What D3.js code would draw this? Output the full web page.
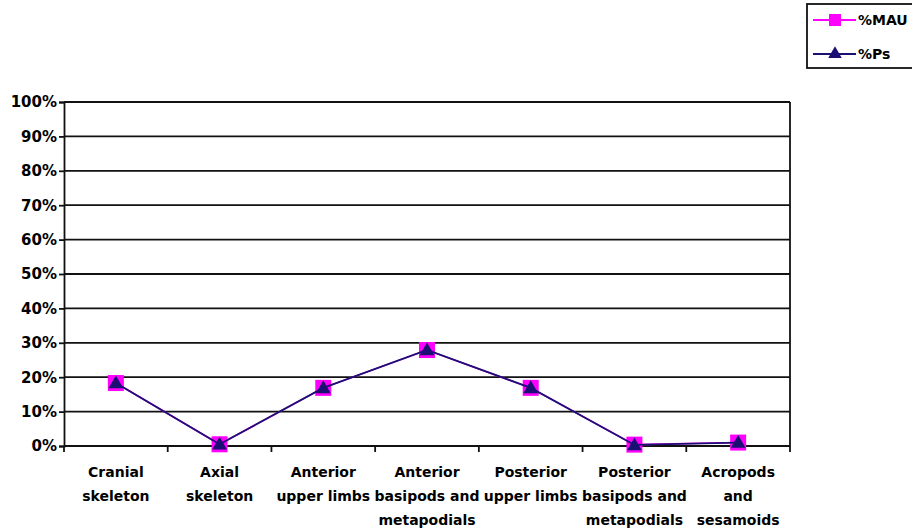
<!DOCTYPE html>
<html>
<head>
<meta charset="utf-8">
<script src="https://cdn.jsdelivr.net/npm/d3@7"></script>
<style>
  html, body { margin: 0; padding: 0; background: #fff; }
  svg { display: block; }
  text { font-family: "DejaVu Sans", Verdana, sans-serif; font-weight: bold; fill: #000; }
</style>
</head>
<body>
<svg id="chart" width="912" height="530"></svg>
<script>
// Skeletal element groups along the x axis (each may wrap onto several lines)
const categories = [
  ["Cranial", "skeleton"],
  ["Axial", "skeleton"],
  ["Anterior", "upper limbs"],
  ["Anterior", "basipods and", "metapodials"],
  ["Posterior", "upper limbs"],
  ["Posterior", "basipods and", "metapodials"],
  ["Acropods", "and", "sesamoids"]
];
// Percentages per group
const mauValues = [18.3, 0.5, 16.9, 27.9, 16.9, 0.4, 1.0];
const psValues  = [18.3, 0.5, 16.9, 27.9, 16.9, 0.3, 1.0];
const yTicks = [0, 10, 20, 30, 40, 50, 60, 70, 80, 90, 100];

const svg = d3.select("#chart");
const plot = { left: 64, right: 790, top: 102, bottom: 446 };

const x = d3.scaleBand()
  .domain(d3.range(categories.length))
  .range([plot.left, plot.right])
  .padding(0);
const y = d3.scaleLinear().domain([0, 100]).range([plot.bottom, plot.top]);

// Horizontal gridlines
svg.append("g")
  .selectAll("line")
  .data(yTicks)
  .join("line")
  .attr("x1", plot.left).attr("x2", plot.right)
  .attr("y1", d => y(d)).attr("y2", d => y(d))
  .attr("stroke", "#111").attr("stroke-width", 1.8);

// Right border of the plot area
svg.append("line")
  .attr("x1", plot.right).attr("x2", plot.right)
  .attr("y1", plot.top).attr("y2", plot.bottom)
  .attr("stroke", "#111").attr("stroke-width", 1.8);

// Y axis
const yAxis = svg.append("g")
  .attr("transform", `translate(${plot.left},0)`)
  .call(d3.axisLeft(y).tickValues(yTicks).tickFormat(d => d + "%").tickSize(5).tickPadding(2));
yAxis.select(".domain").attr("stroke", "#111").attr("stroke-width", 1.8);
yAxis.selectAll(".tick line").attr("stroke", "#111").attr("stroke-width", 1.8);
yAxis.selectAll(".tick text")
  .attr("font-family", "DejaVu Sans, Verdana, sans-serif")
  .attr("font-weight", "bold")
  .attr("font-size", 15)
  .attr("fill", "#000");

// X axis: line with tick marks at the band boundaries
const bounds = d3.range(categories.length + 1).map(i =>
  i < categories.length ? x(i) : x(categories.length - 1) + x.bandwidth());
svg.append("line")
  .attr("x1", plot.left).attr("x2", plot.right)
  .attr("y1", plot.bottom).attr("y2", plot.bottom)
  .attr("stroke", "#111").attr("stroke-width", 1.8);
svg.append("g")
  .selectAll("line")
  .data(bounds)
  .join("line")
  .attr("x1", d => d).attr("x2", d => d)
  .attr("y1", plot.bottom).attr("y2", plot.bottom + 6)
  .attr("stroke", "#111").attr("stroke-width", 1.8);

// Category labels
const cx = i => x(i) + x.bandwidth() / 2;
const lbl = svg.append("g")
  .selectAll("text")
  .data(categories)
  .join("text")
  .attr("text-anchor", "middle")
  .attr("font-size", 14)
  .attr("transform", (d, i) => `translate(${cx(i)},477)`);
lbl.selectAll("tspan")
  .data(d => d)
  .join("tspan")
  .attr("x", 0)
  .attr("dy", (d, j) => j === 0 ? 0 : 24)
  .text(d => d);

const magenta = "#ff00ff";
const navy = "#1b0f73";
const line = d3.line().x((d, i) => cx(i)).y(d => y(d));
const triangle = d3.symbol().type(d3.symbolTriangle).size(95);

// %MAU series
svg.append("path")
  .datum(mauValues)
  .attr("d", line)
  .attr("fill", "none")
  .attr("stroke", magenta)
  .attr("stroke-width", 1.6);
svg.append("g")
  .selectAll("rect")
  .data(mauValues)
  .join("rect")
  .attr("x", (d, i) => cx(i) - 8)
  .attr("y", d => y(d) - 8)
  .attr("width", 16).attr("height", 16)
  .attr("fill", magenta);

// %Ps series
svg.append("path")
  .datum(psValues)
  .attr("d", line)
  .attr("fill", "none")
  .attr("stroke", navy)
  .attr("stroke-width", 1.8);
svg.append("g")
  .selectAll("path")
  .data(psValues)
  .join("path")
  .attr("d", triangle)
  .attr("transform", (d, i) => `translate(${cx(i)},${y(d) + 1})`)
  .attr("fill", navy);

// Legend
const legend = svg.append("g");
legend.append("rect")
  .attr("x", 807).attr("y", 4)
  .attr("width", 110).attr("height", 64)
  .attr("fill", "#fff").attr("stroke", "#111").attr("stroke-width", 1.8);
const legendItems = [
  { name: "%MAU", color: magenta, ly: 20, marker: "square" },
  { name: "%Ps", color: navy, ly: 54, marker: "triangle" }
];
legendItems.forEach(it => {
  legend.append("line")
    .attr("x1", 813).attr("x2", 856)
    .attr("y1", it.ly).attr("y2", it.ly)
    .attr("stroke", it.color).attr("stroke-width", 2);
  if (it.marker === "square") {
    legend.append("rect")
      .attr("x", 829).attr("y", it.ly - 6)
      .attr("width", 12).attr("height", 12)
      .attr("fill", it.color);
  } else {
    legend.append("path")
      .attr("d", d3.symbol().type(d3.symbolTriangle).size(80))
      .attr("transform", `translate(835,${it.ly})`)
      .attr("fill", it.color);
  }
  legend.append("text")
    .attr("x", 858).attr("y", it.ly + 5)
    .attr("font-size", 14)
    .text(it.name);
});
</script>
</body>
</html>
